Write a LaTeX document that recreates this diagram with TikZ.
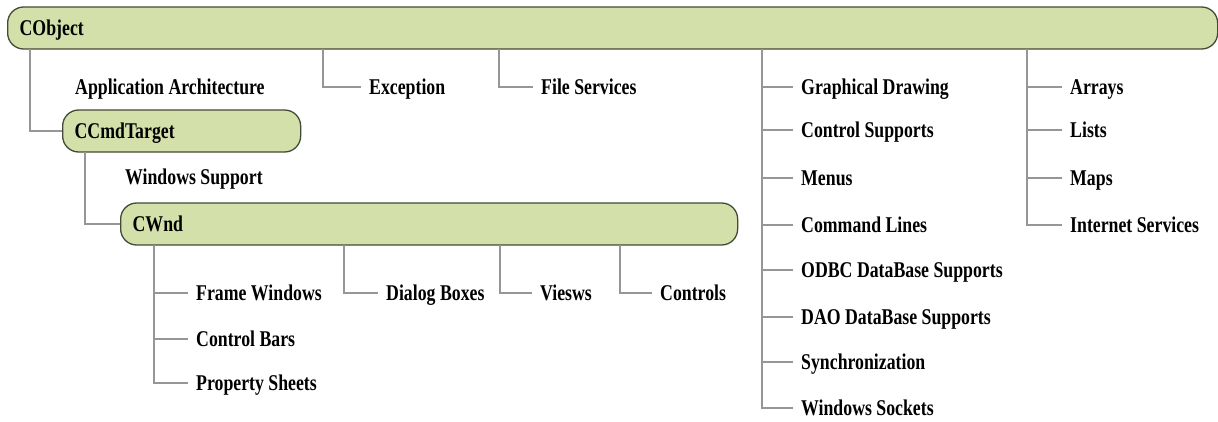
\documentclass[tikz,border=0pt]{standalone}
\usepackage{fontspec}
\setmainfont{Liberation Serif}[FakeStretch=0.79]
\usetikzlibrary{positioning, calc}
\definecolor{boxfill}{RGB}{212,224,170}
\definecolor{boxline}{RGB}{66,74,56}
\definecolor{linkgray}{RGB}{150,150,150}
\tikzset{
  classbox/.style = {
    rectangle, rounded corners=16pt, draw=boxline, line width=1.3pt,
    fill=boxfill, minimum height=42pt, inner xsep=12pt, inner ysep=0pt,
    text width=#1, align=left, anchor=west,
    font=\fontsize{22.5}{26}\selectfont\bfseries,
    text height=15pt, text depth=0pt
  },
  lbl/.style = {
    anchor=west, inner xsep=8pt, inner ysep=0pt,
    font=\fontsize{22.5}{26}\selectfont\bfseries,
    text height=15pt, text depth=0pt
  },
  link/.style = {draw=linkgray, line width=1.6pt}
}

\begin{document}
\begin{tikzpicture}[x=1pt, y=-1pt]
  \useasboundingbox (0,0) rectangle (1218,421);

  % Class boxes
  \node[classbox=1186pt] (cobject) at (7,28) {CObject};
  \node[classbox=214pt] (ccmdtarget) at (62,131) {CCmdTarget};
  \node[classbox=593pt] (cwnd) at (120,224) {CWnd};

  % Labels
  \node[lbl] (apparch) at (67,87) {Application Architecture};
  \node[lbl] (winsup) at (117,177) {Windows Support};
  \node[lbl] (exception) at (361,87) {Exception};
  \node[lbl] (filesvc) at (533,87) {File Services};

  \node[lbl] (framewin) at (188,293) {Frame Windows};
  \node[lbl] (ctrlbars) at (188,339) {Control Bars};
  \node[lbl] (propsheets) at (188,383) {Property Sheets};
  \node[lbl] (dlgboxes) at (378,293) {Dialog Boxes};
  \node[lbl] (views) at (532,293) {Viesws};
  \node[lbl] (controls) at (652,293) {Controls};

  \node[lbl] (gdraw) at (793,87) {Graphical Drawing};
  \node[lbl] (ctrlsup) at (793,130) {Control Supports};
  \node[lbl] (menus) at (793,178) {Menus};
  \node[lbl] (cmdlines) at (793,225) {Command Lines};
  \node[lbl] (odbc) at (793,270) {ODBC DataBase Supports};
  \node[lbl] (dao) at (793,317) {DAO DataBase Supports};
  \node[lbl] (sync) at (793,362) {Synchronization};
  \node[lbl] (sockets) at (793,408) {Windows Sockets};

  \node[lbl] (arrays) at (1062,87) {Arrays};
  \node[lbl] (lists) at (1062,130) {Lists};
  \node[lbl] (maps) at (1062,178) {Maps};
  \node[lbl] (inet) at (1062,225) {Internet Services};

  % Branch points
  \coordinate (brcmd) at (30,49);
  \coordinate (brexc) at (323,49);
  \coordinate (brfile) at (499,49);
  \coordinate (brgfx) at (762,49);
  \coordinate (brcoll) at (1027,49);
  \coordinate (brwnd) at (85,152);
  \coordinate (brframe) at (154,245);
  \coordinate (brdlg) at (344,245);
  \coordinate (brview) at (500,245);
  \coordinate (brctrl) at (620,245);

  % Connections
  \draw[link] (brcmd) |- (ccmdtarget.west);
  \draw[link] (brexc) |- (exception.west);
  \draw[link] (brfile) |- (filesvc.west);
  \draw[link] (brwnd) |- (cwnd.west);
  \draw[link] (brdlg) |- (dlgboxes.west);
  \draw[link] (brview) |- (views.west);
  \draw[link] (brctrl) |- (controls.west);
  \foreach \n in {framewin, ctrlbars, propsheets}
    \draw[link] (brframe) |- (\n.west);
  \foreach \n in {gdraw, ctrlsup, menus, cmdlines, odbc, dao, sync, sockets}
    \draw[link] (brgfx) |- (\n.west);
  \foreach \n in {arrays, lists, maps, inet}
    \draw[link] (brcoll) |- (\n.west);
\end{tikzpicture}
\end{document}
